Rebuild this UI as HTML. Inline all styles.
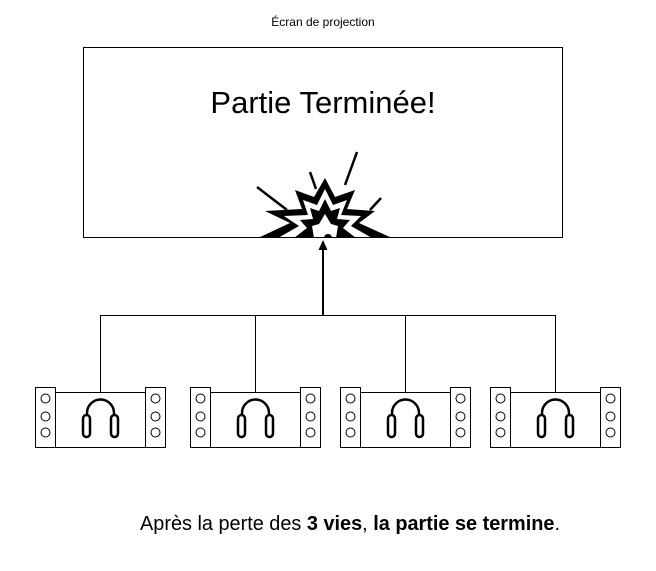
<!DOCTYPE html>
<html><head><meta charset="utf-8"><style>
body{margin:0;background:#fff;width:656px;height:571px;overflow:hidden}
svg{display:block}
text{font-family:"Liberation Sans",Arial,sans-serif}
</style></head><body>
<svg width="656" height="571" viewBox="0 0 656 571" xmlns="http://www.w3.org/2000/svg">
<defs>
<g id="dev">
<rect x="0.5" y="7.5" width="20" height="60" fill="#fff" stroke="#000"/>
<rect x="20.5" y="12.5" width="90" height="55" fill="#fff" stroke="#000"/>
<rect x="110.5" y="7.5" width="20" height="60" fill="#fff" stroke="#000"/>
<circle cx="10.5" cy="18.5" r="4.5" fill="#fff" stroke="#000"/>
<circle cx="10.5" cy="36.5" r="4.5" fill="#fff" stroke="#000"/>
<circle cx="10.5" cy="52.5" r="4.5" fill="#fff" stroke="#000"/>
<circle cx="120.5" cy="18.5" r="4.5" fill="#fff" stroke="#000"/>
<circle cx="120.5" cy="36.5" r="4.5" fill="#fff" stroke="#000"/>
<circle cx="120.5" cy="52.5" r="4.5" fill="#fff" stroke="#000"/>
<path d="M52,37 V33 A13.5,13.5 0 0 1 79,33 V37" fill="none" stroke="#000" stroke-width="2.5"/>
<rect x="48" y="35" width="7" height="22" rx="3.5" fill="#fff" stroke="#000" stroke-width="2.5"/>
<rect x="76" y="35" width="7" height="22" rx="3.5" fill="#fff" stroke="#000" stroke-width="2.5"/>
</g>
<clipPath id="cp"><rect x="0" y="0" width="656" height="237"/></clipPath>
</defs>
<text x="323" y="26" font-size="12" text-anchor="middle">Écran de projection</text>
<rect x="83.5" y="47.5" width="479" height="190" fill="#fff" stroke="#000"/>
<text x="323" y="113" font-size="31" text-anchor="middle">Partie Terminée!</text>
<g clip-path="url(#cp)">
<g stroke="#000" stroke-width="2.5">
<line x1="257" y1="187" x2="287" y2="210"/>
<line x1="310" y1="172" x2="316" y2="189"/>
<line x1="357" y1="152" x2="345" y2="185"/>
<line x1="381" y1="198" x2="370" y2="210"/>
</g>
<polygon points="325,178 335,197 355,190 347,209 375,211 359,223 392,238 325,252 258,238 290,223 265,211 302,209 295,190 314,197" fill="#000"/>
<polygon points="325,189 333,205 347,200 341,215 361,216 351,226 372,238 325,247 278,238 299,226 284,216 308,215 303,200 317,205" fill="#fff"/>
<polygon points="325,199 331,211 340,208 337,219 350,220 343,228 356,238 294,238 307,228 300,220 313,219 310,208 319,211" fill="#000"/>
<polygon points="325,214 331,224 338,226 336,238 314,238 312,226 319,224" fill="#fff"/>
<circle cx="328" cy="238" r="4" fill="#000"/>
</g>
<line x1="83" y1="237.5" x2="563" y2="237.5" stroke="#000"/>
<g stroke="#000" fill="none">
<line x1="100.5" y1="315.5" x2="555.5" y2="315.5"/>
<line x1="100.5" y1="315" x2="100.5" y2="392"/>
<line x1="255.5" y1="315" x2="255.5" y2="392"/>
<line x1="405.5" y1="315" x2="405.5" y2="392"/>
<line x1="555.5" y1="315" x2="555.5" y2="392"/>
<line x1="323" y1="315" x2="323" y2="248" stroke-width="2"/>
</g>
<polygon points="323,240 318.5,250 327.5,250" fill="#000"/>
<use href="#dev" x="35" y="380"/>
<use href="#dev" x="190" y="380"/>
<use href="#dev" x="340" y="380"/>
<use href="#dev" x="490" y="380"/>
<text x="140" y="530" font-size="20" textLength="420" lengthAdjust="spacingAndGlyphs">Après la perte des <tspan font-weight="bold">3 vies</tspan>, <tspan font-weight="bold">la partie se termine</tspan>.</text>
</svg>
</body></html>
